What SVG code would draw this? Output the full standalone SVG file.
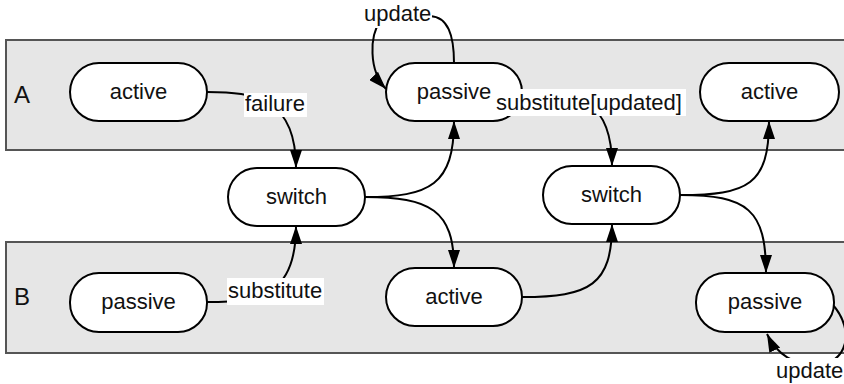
<svg xmlns="http://www.w3.org/2000/svg" width="844" height="384" viewBox="0 0 844 384">
<defs>
<marker id="arr" viewBox="0 0 18 12" refX="18" refY="6" markerWidth="18" markerHeight="12" markerUnits="userSpaceOnUse" orient="auto">
<path d="M0,0 L18,6 L0,12 z" fill="#000"/>
</marker>
<style>
.lane{fill:#e6e6e6;stroke:#555;stroke-width:2}
.node rect{fill:#fff;stroke:#000;stroke-width:2}
.t{font-family:"Liberation Sans",Arial,sans-serif;font-size:22px;fill:#111}
.c{text-anchor:middle}
.lt{font-family:"Liberation Sans",Arial,sans-serif;font-size:24px;fill:#111}
.e{fill:none;stroke:#000;stroke-width:2;marker-end:url(#arr)}
.bg{fill:#fff}
</style>
</defs>
<rect width="844" height="384" fill="#fff"/>
<g id="laneA"><rect class="lane" x="6" y="40" width="842" height="110"/><text class="lt" x="14" y="103">A</text></g>
<g id="laneB"><rect class="lane" x="6" y="242" width="842" height="111"/><text class="lt" x="14" y="305">B</text></g>
<g id="connectors">
<path class="e" d="M207,92 C255,92 296,98 296,168"/>
<path class="e" d="M365,197 C430,197 454,185 454,121"/>
<path class="e" d="M365,197 C430,197 454,210 454,268"/>
<path class="e" d="M207,302 C265,302 296,292 296,226"/>
<path class="e" d="M454,63 C454,35 448,17 430,16 L380,22 C370,35 368,70 386,89"/>
<path class="e" d="M522,92 C580,92 612,100 612,166"/>
<path class="e" d="M522,297 C590,297 612,285 612,224"/>
<path class="e" d="M680,195 C748,195 769,185 769,121"/>
<path class="e" d="M680,195 C748,195 766,210 766,273"/>
<path class="e" d="M833,305 C855,330 848,365 815,365 C795,365 777,355 767,334"/>
</g>
<g id="n_a_active" class="node"><rect x="70" y="63" width="137" height="58" rx="29"/><text class="t c" x="138.5" y="99">active</text></g>
<g id="n_a_passive" class="node"><rect x="386" y="63" width="136" height="58" rx="29"/><text class="t c" x="454" y="99">passive</text></g>
<g id="n_a_active2" class="node"><rect x="700" y="63" width="139" height="58" rx="29"/><text class="t c" x="769.5" y="99">active</text></g>
<g id="n_switch1" class="node"><rect x="228" y="168" width="137" height="58" rx="29"/><text class="t c" x="296.5" y="204">switch</text></g>
<g id="n_switch2" class="node"><rect x="543" y="166" width="137" height="58" rx="29"/><text class="t c" x="611.5" y="202">switch</text></g>
<g id="n_b_passive" class="node"><rect x="70" y="273" width="137" height="59" rx="29"/><text class="t c" x="138.5" y="309">passive</text></g>
<g id="n_b_active" class="node"><rect x="386" y="268" width="136" height="58" rx="29"/><text class="t c" x="454" y="304">active</text></g>
<g id="n_b_passive2" class="node"><rect x="696" y="273" width="138" height="59" rx="29"/><text class="t c" x="765" y="309">passive</text></g>
<g id="labels">
<rect class="bg" x="244" y="93" width="63" height="24"/><text class="t" x="245" y="111">failure</text>
<rect class="bg" x="495" y="89" width="191" height="27"/><text class="t" x="496" y="110">substitute[updated]</text>
<rect class="bg" x="227" y="278" width="97" height="27"/><text class="t" x="228" y="298">substitute</text>
<rect class="bg" x="364" y="5" width="68" height="23"/><text class="t" x="364" y="21">update</text>
<rect class="bg" x="775" y="358" width="69" height="25"/><text class="t" x="776" y="378">update</text>
</g>
</svg>
